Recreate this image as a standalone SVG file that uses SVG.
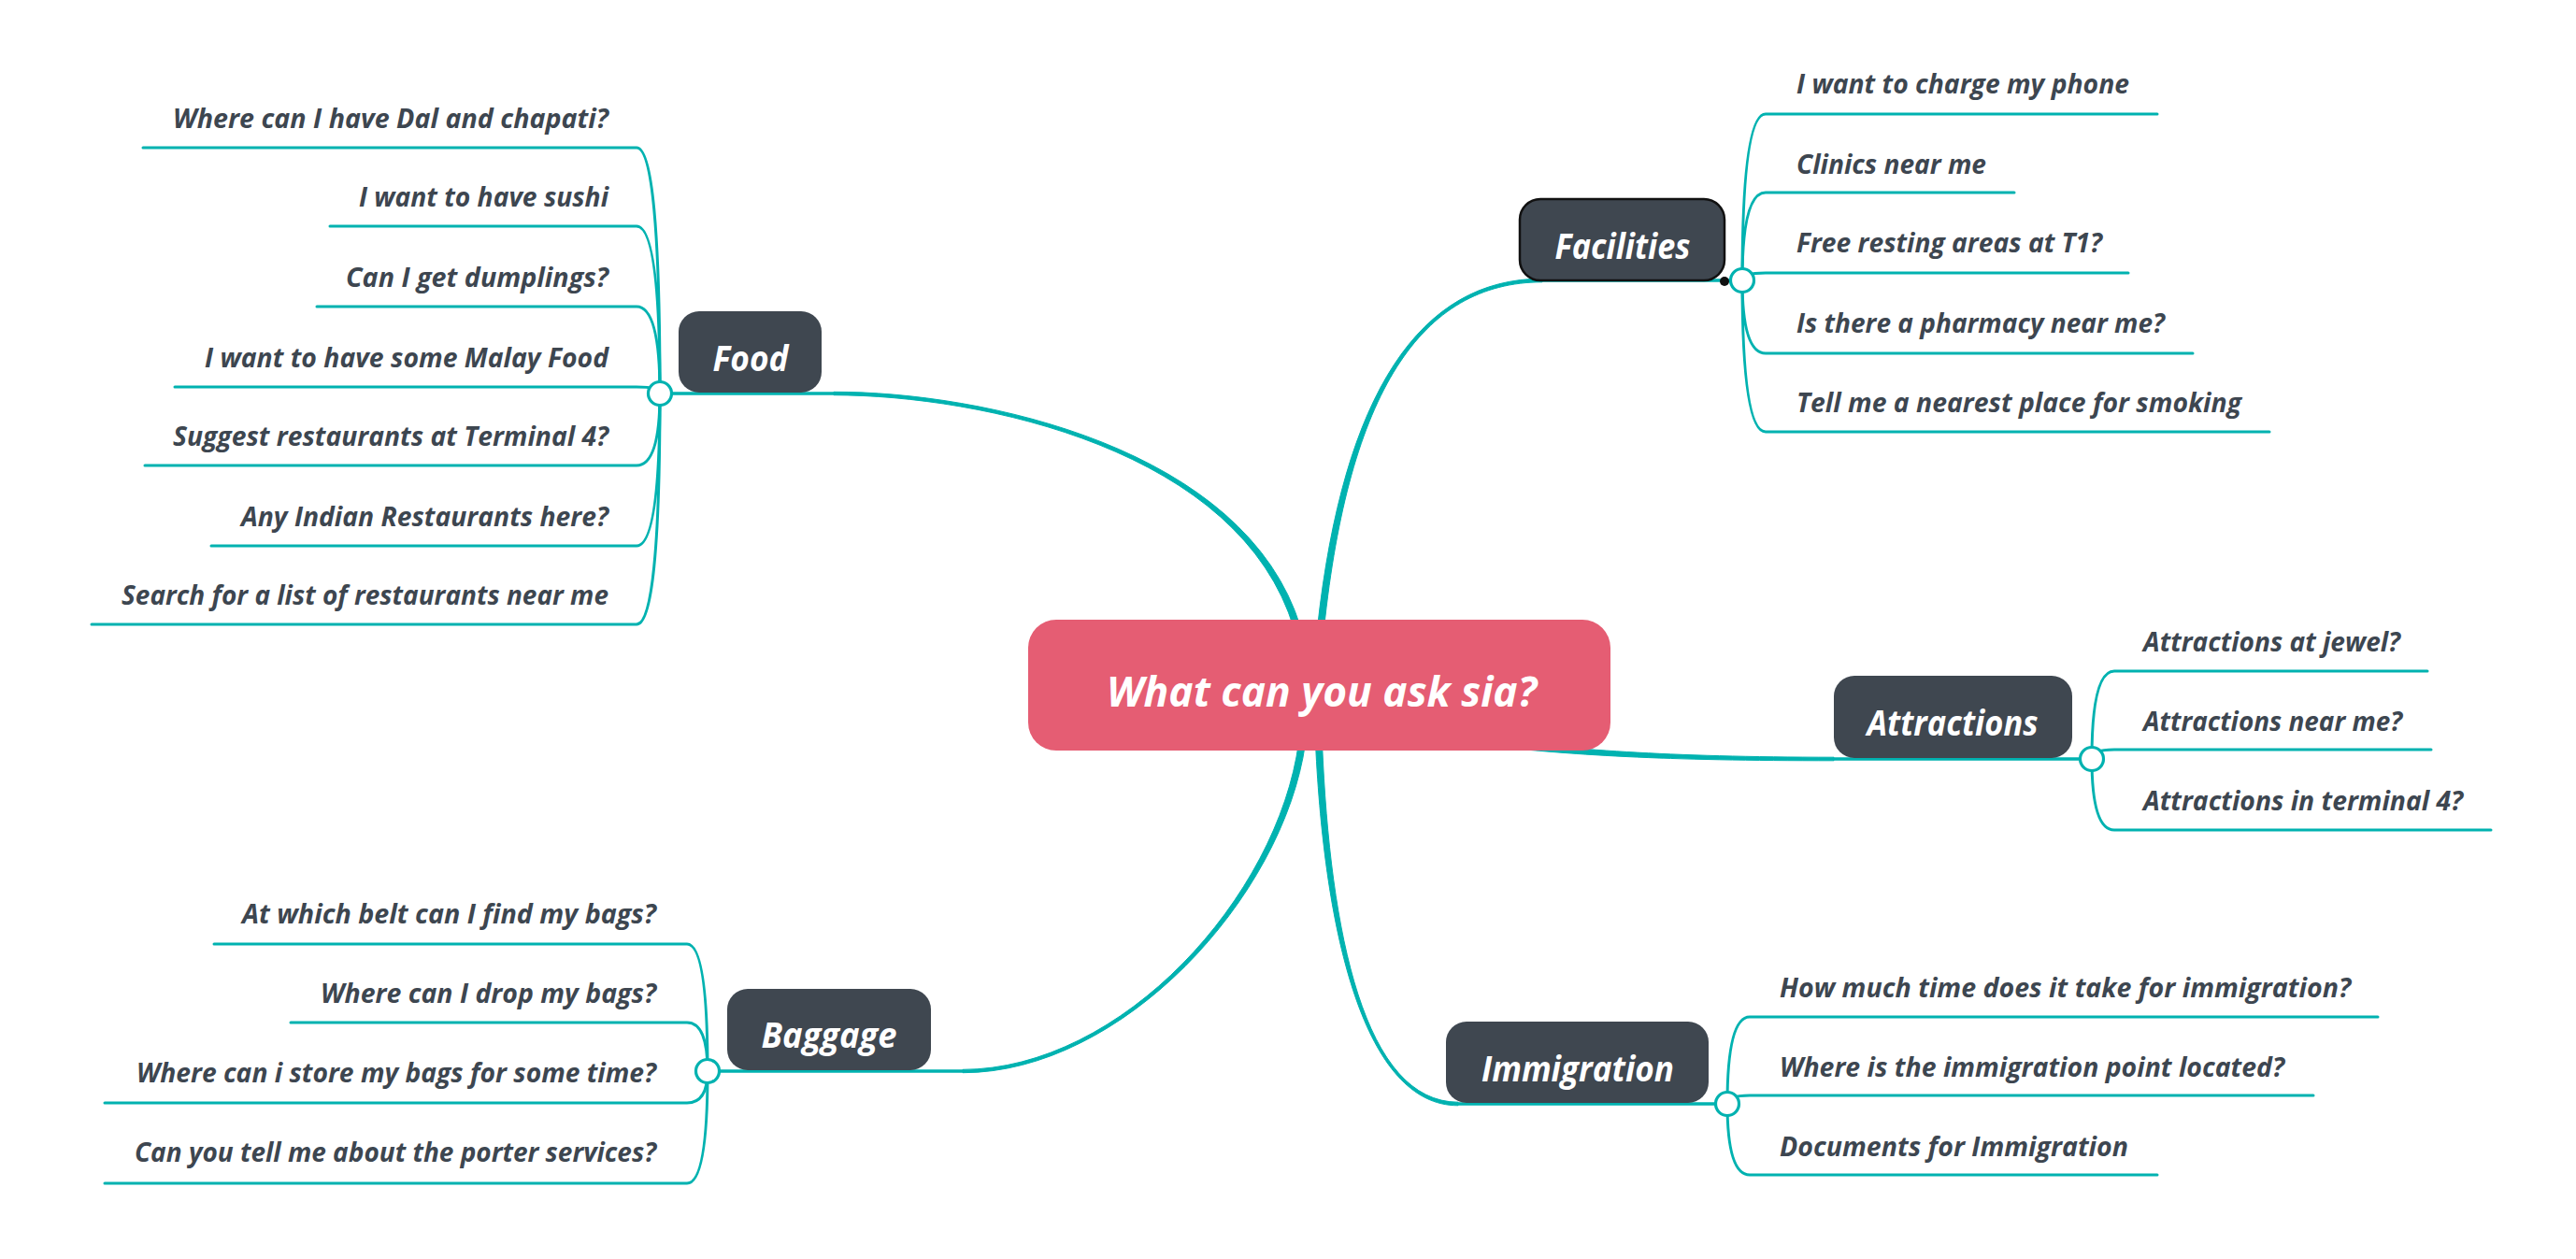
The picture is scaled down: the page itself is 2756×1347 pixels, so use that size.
<svg xmlns="http://www.w3.org/2000/svg" width="2756" height="1347" viewBox="0 0 2756 1347">
<style>
.bg{fill:#ffffff}
.taper{fill:#00B2B0;stroke:#00B2B0;stroke-width:1;stroke-linejoin:round}
.main{fill:none;stroke:#00B2B0;stroke-width:3.5;stroke-linecap:round}
.br{fill:none;stroke:#00B2B0;stroke-width:3;stroke-linecap:round;stroke-linejoin:round}
.hub{fill:#ffffff;stroke:#00B2B0;stroke-width:3.2}
.node{fill:#3F4750}
.center{fill:#E55D73}
.nt{font-family:"Open Sans","Liberation Sans",sans-serif;font-weight:700;font-style:italic;font-size:37px;fill:#ffffff;text-anchor:middle}
.ct{font-family:"Open Sans","Liberation Sans",sans-serif;font-weight:700;font-style:italic;font-size:45px;fill:#ffffff;text-anchor:middle}
.lt{font-family:"Open Sans","Liberation Sans",sans-serif;font-weight:700;font-style:italic;font-size:29px;fill:#3D4650}
.r{text-anchor:end}
</style>
<rect class="bg" x="0" y="0" width="2756" height="1347"/>
<g id="connectors">
  <!-- Food -->
  <path class="taper" d="M1391.4,671 C1332.9,479.1 1050,419 892,419.3 L892,422.7 C1050,423 1327.1,480.9 1384.6,673 Z"/>
  <path class="main" d="M892,421 L706,421"/>
  <!-- Facilities -->
  <path class="taper" d="M1416.5,672.4 C1443,420.3 1520,302 1650,301.8 L1650,298.2 C1520,298 1437,419.7 1409.5,671.6 Z"/>
  <path class="main" d="M1650,300 L1864,300"/>
  <!-- Attractions -->
  <path class="taper" d="M1579.6,796.5 C1679.6,808 1780,814 1962,813.8 L1962,810.2 C1780,810 1680.4,802 1580.4,789.5 Z"/>
  <path class="main" d="M1962,812 L2238,812"/>
  <!-- Immigration -->
  <path class="taper" d="M1407.5,795.2 C1417,1000.1 1460,1183 1560,1182.8 L1560,1179.2 C1460,1179 1423,999.9 1414.5,794.8 Z"/>
  <path class="main" d="M1560,1181 L1848,1181"/>
  <!-- Baggage -->
  <path class="taper" d="M1389.5,794.5 C1367,959.6 1200,1144 1030,1144.3 L1030,1147.7 C1200,1148 1373,960.4 1396.5,795.5 Z"/>
  <path class="main" d="M1030,1146 L757,1146"/>
  <!-- Food branches -->
  <path class="br" d="M706,421 Q706,158 681,158 L153,158"/>
  <path class="br" d="M706,421 Q706,242 681,242 L353,242"/>
  <path class="br" d="M706,421 Q706,328 681,328 L339,328"/>
  <path class="br" d="M706,421 Q706,414 681,414 L187,414"/>
  <path class="br" d="M706,421 Q706,498 681,498 L155,498"/>
  <path class="br" d="M706,421 Q706,584 681,584 L226,584"/>
  <path class="br" d="M706,421 Q706,668 681,668 L98,668"/>
  <!-- Facilities branches -->
  <path class="br" d="M1864,300 Q1864,122 1889,122 L2308,122"/>
  <path class="br" d="M1864,300 Q1864,206 1889,206 L2155,206"/>
  <path class="br" d="M1864,300 Q1864,292 1889,292 L2277,292"/>
  <path class="br" d="M1864,300 Q1864,378 1889,378 L2346,378"/>
  <path class="br" d="M1864,300 Q1864,462 1889,462 L2428,462"/>
  <!-- Attractions branches -->
  <path class="br" d="M2238,812 Q2238,718 2262,718 L2597,718"/>
  <path class="br" d="M2238,812 Q2238,802 2262,802 L2601,802"/>
  <path class="br" d="M2238,812 Q2238,888 2262,888 L2665,888"/>
  <!-- Immigration branches -->
  <path class="br" d="M1848,1181 Q1848,1088 1872,1088 L2544,1088"/>
  <path class="br" d="M1848,1181 Q1848,1172 1872,1172 L2475,1172"/>
  <path class="br" d="M1848,1181 Q1848,1257 1872,1257 L2308,1257"/>
  <!-- Baggage branches -->
  <path class="br" d="M757,1146 Q757,1010 735,1010 L229,1010"/>
  <path class="br" d="M757,1146 Q757,1094 735,1094 L311,1094"/>
  <path class="br" d="M757,1146 Q757,1180 735,1180 L112,1180"/>
  <path class="br" d="M757,1146 Q757,1266 735,1266 L112,1266"/>
</g>
<g id="center-node">
  <rect class="center" x="1100" y="663" width="623" height="140" rx="30"/>
  <text class="ct" x="1414" y="756" textLength="460" lengthAdjust="spacingAndGlyphs">What can you ask sia?</text>
</g>
<g id="food">
  <rect class="node" x="726" y="333" width="153" height="87" rx="22"/>
  <circle class="hub" cx="706" cy="421" r="12.5"/>
  <text class="nt" x="803" y="397" textLength="81" lengthAdjust="spacingAndGlyphs">Food</text>
</g>
<g id="food-items">
  <text class="lt r" x="651" y="137" textLength="466" lengthAdjust="spacingAndGlyphs">Where can I have Dal and chapati?</text>
  <text class="lt r" x="651" y="221" textLength="267" lengthAdjust="spacingAndGlyphs">I want to have sushi</text>
  <text class="lt r" x="651" y="307" textLength="281" lengthAdjust="spacingAndGlyphs">Can I get dumplings?</text>
  <text class="lt r" x="651" y="393" textLength="432" lengthAdjust="spacingAndGlyphs">I want to have some Malay Food</text>
  <text class="lt r" x="651" y="477" textLength="466" lengthAdjust="spacingAndGlyphs">Suggest restaurants at Terminal 4?</text>
  <text class="lt r" x="651" y="563" textLength="393" lengthAdjust="spacingAndGlyphs">Any Indian Restaurants here?</text>
  <text class="lt r" x="651" y="647" textLength="521" lengthAdjust="spacingAndGlyphs">Search for a list of restaurants near me</text>
</g>
<g id="facilities">
  <rect class="node" x="1626" y="213" width="219" height="87" rx="22" stroke="#111111" stroke-width="2.5"/>
  <circle cx="1845" cy="301" r="5" fill="#111111"/>
  <circle class="hub" cx="1864" cy="300" r="12.5"/>
  <text class="nt" x="1736" y="277" textLength="145" lengthAdjust="spacingAndGlyphs">Facilities</text>
</g>
<g id="facilities-items">
  <text class="lt" x="1922" y="100" textLength="356" lengthAdjust="spacingAndGlyphs">I want to charge my phone</text>
  <text class="lt" x="1922" y="186" textLength="203" lengthAdjust="spacingAndGlyphs">Clinics near me</text>
  <text class="lt" x="1922" y="270" textLength="327" lengthAdjust="spacingAndGlyphs">Free resting areas at T1?</text>
  <text class="lt" x="1922" y="356" textLength="394" lengthAdjust="spacingAndGlyphs">Is there a pharmacy near me?</text>
  <text class="lt" x="1922" y="441" textLength="476" lengthAdjust="spacingAndGlyphs">Tell me a nearest place for smoking</text>
</g>
<g id="attractions">
  <rect class="node" x="1962" y="723" width="255" height="88" rx="22"/>
  <circle class="hub" cx="2238" cy="812" r="12.5"/>
  <text class="nt" x="2089" y="787" textLength="183" lengthAdjust="spacingAndGlyphs">Attractions</text>
</g>
<g id="attractions-items">
  <text class="lt" x="2293" y="697" textLength="275" lengthAdjust="spacingAndGlyphs">Attractions at jewel?</text>
  <text class="lt" x="2293" y="782" textLength="277" lengthAdjust="spacingAndGlyphs">Attractions near me?</text>
  <text class="lt" x="2293" y="867" textLength="342" lengthAdjust="spacingAndGlyphs">Attractions in terminal 4?</text>
</g>
<g id="immigration">
  <rect class="node" x="1547" y="1093" width="281" height="87" rx="22"/>
  <circle class="hub" cx="1848" cy="1181" r="12.5"/>
  <text class="nt" x="1688" y="1157" textLength="206" lengthAdjust="spacingAndGlyphs">Immigration</text>
</g>
<g id="immigration-items">
  <text class="lt" x="1904" y="1067" textLength="611" lengthAdjust="spacingAndGlyphs">How much time does it take for immigration?</text>
  <text class="lt" x="1904" y="1152" textLength="540" lengthAdjust="spacingAndGlyphs">Where is the immigration point located?</text>
  <text class="lt" x="1904" y="1237" textLength="373" lengthAdjust="spacingAndGlyphs">Documents for Immigration</text>
</g>
<g id="baggage">
  <rect class="node" x="778" y="1058" width="218" height="87" rx="22"/>
  <circle class="hub" cx="757" cy="1146" r="12.5"/>
  <text class="nt" x="887" y="1121" textLength="145" lengthAdjust="spacingAndGlyphs">Baggage</text>
</g>
<g id="baggage-items">
  <text class="lt r" x="702" y="988" textLength="443" lengthAdjust="spacingAndGlyphs">At which belt can I find my bags?</text>
  <text class="lt r" x="702" y="1073" textLength="359" lengthAdjust="spacingAndGlyphs">Where can I drop my bags?</text>
  <text class="lt r" x="702" y="1158" textLength="556" lengthAdjust="spacingAndGlyphs">Where can i store my bags for some time?</text>
  <text class="lt r" x="702" y="1243" textLength="558" lengthAdjust="spacingAndGlyphs">Can you tell me about the porter services?</text>
</g>
</svg>
